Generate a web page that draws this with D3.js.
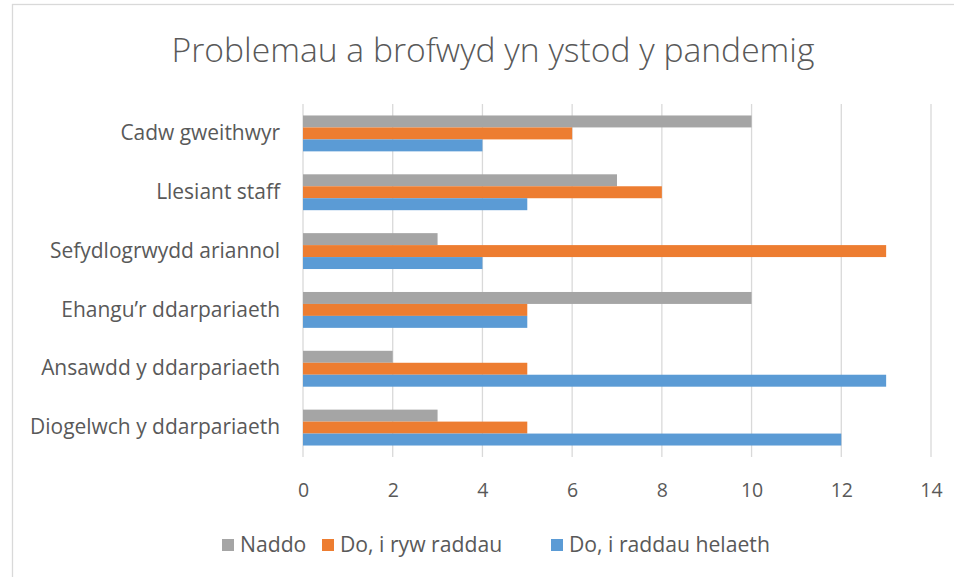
<!DOCTYPE html>
<html>
<head>
<meta charset="utf-8">
<script src="https://cdn.jsdelivr.net/npm/d3@7"></script>
<style>
  html, body { margin: 0; padding: 0; background: #fff; }
  svg { display: block; font-family: "Open Sans", sans-serif; }
  .grid line { stroke: #d9d9d9; stroke-width: 1.3; }
  text { fill: #595959; }
</style>
</head>
<body>
<svg id="chart" width="954" height="577"></svg>
<script>
  // data, top to bottom as in the picture
  const categories = [
    'Cadw gweithwyr',
    'Llesiant staff',
    'Sefydlogrwydd ariannol',
    'Ehangu\u2019r ddarpariaeth',
    'Ansawdd y ddarpariaeth',
    'Diogelwch y ddarpariaeth'
  ];
  const seriesNames = ['Naddo', 'Do, i ryw raddau', 'Do, i raddau helaeth'];
  const naddo = [10, 7, 3, 10, 2, 3];
  const rywRaddau = [6, 8, 13, 5, 5, 5];
  const raddauHelaeth = [4, 5, 4, 5, 13, 12];
  const xTicks = [0, 2, 4, 6, 8, 10, 12, 14];
  const colors = ['#a5a5a5', '#ed7d31', '#5b9bd5'];

  const seriesValues = [naddo, rywRaddau, raddauHelaeth];

  const svg = d3.select('#chart');
  const plot = {left: 303, right: 931, top: 104, bottom: 457};

  // chart frame (only top + left edges fall inside the picture)
  svg.append('rect')
    .attr('x', 12.5).attr('y', 4.5)
    .attr('width', 1000).attr('height', 600)
    .attr('fill', 'none')
    .attr('stroke', '#d9d9d9')
    .attr('stroke-width', 1.3);

  // shrink/grow a text node so its width matches what the picture shows
  function fit(sel, width) {
    sel.each(function() {
      const base = parseFloat(this.getAttribute('font-size'));
      const w = this.getComputedTextLength();
      this.setAttribute('font-size', (base * width / w).toFixed(2));
    });
  }

  const x = d3.scaleLinear().domain([0, 14]).range([plot.left, plot.right]);
  const y = d3.scaleBand().domain(categories)
    .range([plot.top, plot.bottom])
    .paddingInner(0.39).paddingOuter(0.195);
  const ySub = d3.scaleBand().domain(d3.range(seriesNames.length))
    .range([0, y.bandwidth()]);

  // title
  const title = svg.append('text')
    .attr('x', 493).attr('y', 62)
    .attr('text-anchor', 'middle')
    .attr('font-size', 31)
    .attr('font-weight', 300)
    .text('Problemau a brofwyd yn ystod y pandemig');
  fit(title, 643);

  // vertical gridlines
  svg.append('g').attr('class', 'grid')
    .selectAll('line')
    .data(xTicks)
    .enter().append('line')
    .attr('x1', (d) => x(d)).attr('x2', (d) => x(d))
    .attr('y1', plot.top).attr('y2', plot.bottom);

  // bars
  const groups = svg.append('g').selectAll('g')
    .data(categories)
    .enter().append('g')
    .attr('transform', (d) => 'translate(0,' + y(d) + ')');

  groups.selectAll('rect')
    .data((d, i) => seriesValues.map((vals, s) => ({s: s, v: vals[i]})))
    .enter().append('rect')
    .attr('x', x(0))
    .attr('y', (d) => ySub(d.s))
    .attr('width', (d) => x(d.v) - x(0))
    .attr('height', ySub.bandwidth())
    .attr('fill', (d) => colors[d.s]);

  // category labels
  const yAxis = svg.append('g')
    .attr('transform', 'translate(' + plot.left + ',0)')
    .call(d3.axisLeft(y).tickSize(0).tickPadding(23));
  yAxis.select('.domain').remove();
  yAxis.selectAll('text')
    .attr('font-size', 19)
    .attr('fill', '#595959')
    .style('font-family', '"Open Sans", sans-serif');
  const longest = yAxis.selectAll('text').filter((d) => d === 'Diogelwch y ddarpariaeth');
  const fs = 19 * 250 / longest.node().getComputedTextLength();
  yAxis.selectAll('text').attr('font-size', fs.toFixed(2));

  // value axis labels
  const xAxis = svg.append('g')
    .attr('transform', 'translate(0,' + plot.bottom + ')')
    .call(d3.axisBottom(x).tickValues(xTicks).tickSize(0).tickPadding(26));
  xAxis.select('.domain').remove();
  xAxis.selectAll('text')
    .attr('font-size', 19.5)
    .attr('fill', '#595959')
    .style('font-family', '"Open Sans", sans-serif');

  // legend
  const legendX = [222, 322, 551];
  const legend = svg.append('g').selectAll('g')
    .data(seriesNames)
    .enter().append('g')
    .attr('transform', (d, i) => 'translate(' + legendX[i] + ',545)');
  legend.append('rect')
    .attr('x', 0).attr('y', -6)
    .attr('width', 12).attr('height', 12)
    .attr('fill', (d, i) => colors[i]);
  const legendText = legend.append('text')
    .attr('x', 18).attr('dy', '0.35em')
    .attr('font-size', 19)
    .text((d) => d);
  fit(legendText.filter((d, i) => i === 2), 201);
  const lfs = legendText.filter((d, i) => i === 2).attr('font-size');
  legendText.attr('font-size', lfs);
</script>
</body>
</html>
